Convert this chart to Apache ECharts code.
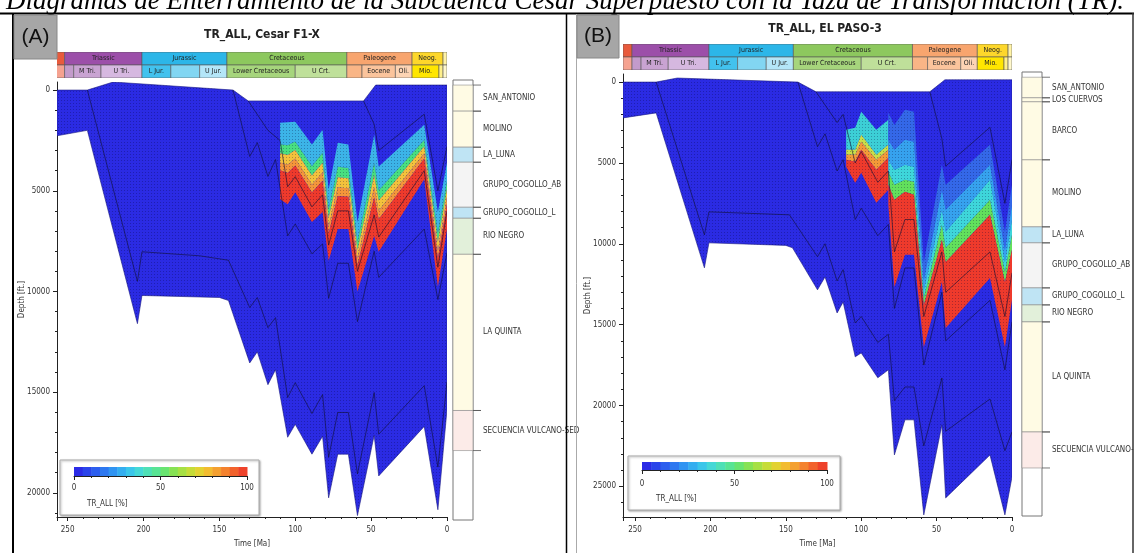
<!DOCTYPE html>
<html><head><meta charset="utf-8">
<script src="https://cdn.jsdelivr.net/npm/echarts@6/dist/echarts.min.js"></script>
<style>html,body{margin:0;padding:0;background:#fff}#c{width:1134px;height:553px}</style>
</head><body><div id="c"></div>
<script>
const FONT = "'Liberation Sans Narrow','Arial Narrow','DejaVu Sans Condensed',sans-serif";
const BLUE = '#2b2be3';

// ---------- shared: time-scale header ----------
const periods = [['',258,252,'#e85a3c'],['Triassic',252,201,'#9c4fa9'],['Jurassic',201,145,'#2cb6e8'],['Cretaceous',145,66,'#8dc85e'],['Paleogene',66,23,'#f8a56e'],['Neog.',23,2.6,'#fdd72b'],['',2.6,0,'#fff3a6']];
const epochs = [['',258,252,'#f5a290'],['',252,246,'#c39bcb'],['M Tri.',246,228,'#c9a3d2'],['U Tri.',228,201,'#d6b8e0'],['L Jur.',201,182,'#42c2ee'],['',182,163,'#82d6f2'],['U Jur.',163,145,'#b4e6f8'],['Lower Cretaceous',145,100,'#a6d57c'],['U Crt.',100,66,'#bfe09a'],['',66,56,'#f9b586'],['Eocene',56,34,'#fbc49c'],['Oli.',34,23,'#fdd4b4'],['Mio.',23,5.3,'#ffe600'],['',5.3,2.6,'#fff08a'],['',2.6,0,'#fff8cc']];

// ---------- shared: TR legend ----------
const trStops = [0,5,10,15,20,25,30,35,40,45,50,55,60,65,70,75,80,85,90,95,100];
const trPalette = ['#2b2be6','#2a44ea','#2c5eee','#2e78f0','#3094f2','#34aef0','#3ac6ea','#44d8d6','#4ee0b6','#58e494','#68e470','#86e254','#a6e044','#c6dc38','#e2d232','#f2bc30','#f4a030','#f4822e','#f2622c','#ee422a'];

const fmColor = {'SAN_ANTONIO':'#fffbe4','LOS CUERVOS':'#fffbe4','BARCO':'#fffbe4','MOLINO':'#fffbe4','LA_LUNA':'#bfe4f4','GRUPO_COGOLLO_AB':'#f4f4f4','GRUPO_COGOLLO_L':'#bfe4f4','RIO NEGRO':'#e2f0da','LA QUINTA':'#fffbe4','SECUENCIA VULCANO-SED':'#fcebe8'};

// ---------- Panel A: TR_ALL, Cesar F1-X ----------
const aDepthTicks = [0,5000,10000,15000,20000];
const aDepthMinor = [1000,2000,3000,4000,6000,7000,8000,9000,11000,12000,13000,14000,16000,17000,18000,19000,21000];
const aSurface = [[257,0],[237,0],[220,-400],[141,0],[131,540],[55,540],[47,-250],[0,-250]];
const aBase = [[257,2270],[237,2000],[204,11600],[201,10200],[150,10300],[144,10450],[130,13550],[125,13000],[118,14630],[113,13890],[105,17240],[100,16600],[89,18080],[82,17190],[78,20250],[72,18080],[65,18080],[59,21130],[48,17140],[45,19160],[15,16700],[6,20840],[0,15860]];
const aHorizon1 = [[237,0],[204,9500],[201,8030],[163,8230],[144,8450],[130,10800],[125,10300],[118,11800],[113,11300],[105,15270],[100,14530],[89,16060],[82,15120],[78,18230],[72,16010],[65,16010],[59,19060],[48,15020],[45,17090],[15,14680],[6,18720],[0,14500]];
const aHorizon2 = [[141,0],[130,3300],[125,2610],[118,4290],[113,3450],[105,7240],[100,6650],[89,8130],[82,7640],[78,10340],[72,8600],[65,8600],[59,11500],[48,8000],[45,9300],[15,6900],[6,10400],[0,8079]];
const aHorizon3 = [[131,540],[118,2000],[110,2500],[105,4800],[100,4300],[89,5800],[82,5200],[78,7700],[72,6000],[65,6000],[59,9000],[48,6200],[45,7300],[15,4000],[6,8800],[0,6000]];
const aHorizon4 = [[55,540],[48,1700],[45,3000],[15,1200],[6,5000],[0,2808]];
const aZoneTime = [110,105,100,89,82,78,72,65,59,48,45,15,6,0];
const aTrTop    = [1626,1600,1576,2709,1970,4926,2611,2700,6552,2217,3793,1724,6059,3596];
const aTr20     = [2688,2738,2555,3785,3115,5919,3811,3875,7517,3624,4979,2483,7094,4520];
const aTr40     = [3143,3226,2975,4246,3606,6345,4325,4378,7931,4227,5488,2808,7537,4916];
const aTr60     = [3598,3714,3395,4707,4096,6770,4839,4882,8345,4829,5996,3133,7980,5312];
const aTr80     = [3978,4120,3745,5092,4505,7125,5268,5302,8690,5332,6420,3404,8350,5642];
const aTrBase   = [5419,5665,5074,6552,6059,8473,6896,6896,10000,7241,8030,4433,9754,6896];
const aFmNames = ['SAN_ANTONIO','MOLINO','LA_LUNA','GRUPO_COGOLLO_AB','GRUPO_COGOLLO_L','RIO NEGRO','LA QUINTA','SECUENCIA VULCANO-SED'];
const aFmTops  = [-250,1034,2808,3547,5764,6305,8079,15763];
const aFmBases = [1034,2808,3547,5764,6305,8079,15763,17734];

// ---------- Panel B: TR_ALL, EL PASO-3 ----------
const bDepthTicks = [0,5000,10000,15000,20000,25000];
const bDepthMinor = [1000,2000,3000,4000,6000,7000,8000,9000,11000,12000,13000,14000,16000,17000,18000,19000,21000,22000,23000,24000,26000];
const bSurface = [[258,0],[236,0],[222,-250],[142,0],[130,600],[54.5,600],[44.5,-140],[0,-140]];
const bBase = [[258,2215],[236,1906],[204,11490],[201,9944],[150,10100],[145.6,10250],[129,12850],[124,12050],[116,14280],[112,13600],[104,16995],[100,16750],[89,18290],[82,17800],[78,23060],[71,20890],[65,20890],[58.5,26770],[46.5,21200],[44,25720],[14.6,23060],[4.7,26770],[0,24420]];
const bHorizon1 = [[236,0],[204,9450],[201,8026],[147.6,8210],[129,10800],[124,10000],[116,12300],[112,11600],[104,14900],[100,14500],[89,16100],[82,15600],[78,19700],[71,18860],[65,18860],[58.5,22500],[46.5,18300],[44,21600],[14.6,19600],[4.7,22800],[0,21640]];
const bHorizon2 = [[142,0],[129,4000],[124,3200],[116,5500],[112,4800],[104,8500],[100,7800],[89,9500],[82,8800],[78,14000],[71,11500],[65,11500],[58.5,17500],[46.5,13000],[44,16000],[14.6,13500],[4.7,17800],[0,14833]];
const bHorizon3 = [[130,600],[116,2500],[112,2000],[104,5000],[100,4300],[89,6200],[82,5500],[78,10500],[71,8500],[65,8500],[58.5,14500],[46.5,10500],[44,13000],[14.6,10500],[4.7,14500],[0,11800]];
const bHorizon4 = [[54.5,600],[46.5,3500],[44,5200],[14.6,2800],[4.7,7500],[0,4808]];
const bZone1Time = [110,104,100,90,82];
const bZ1Top   = [2952,2828,1838,2952,2333];
const bZ1Cyan  = [4189,4189,3261,4499,3880];
const bZ1Yel   = [4499,4499,3694,4808,4189];
const bZ1Orng  = [4808,4932,4189,5427,4684];
const bZ1Base  = [5241,6231,5612,7469,6665];
const bZone2Time = [82,78,71,65,58.5,46.5,44,14.6,4.7,0];
const bZ2Top   = [1900,2650,1714,1838,11121,5117,6355,3880,9264,6355];
const bZ2Lb    = [3571,4190,3571,3694,12235,6665,7902,5117,10378,7593];
const bZ2Cyan  = [4808,5427,5117,5241,12853,7902,9264,6046,11121,8521];
const bZ2Green = [5551,6355,6046,6169,13348,8830,10254,7283,11740,9449];
const bZ2Red   = [6355,7283,6788,6974,13781,9759,11121,8211,12358,10378];
const bZ2Base  = [7593,12667,10687,10687,16380,12358,15204,12110,16380,13470];
const bFmNames = ['SAN_ANTONIO','LOS CUERVOS','BARCO','MOLINO','LA_LUNA','GRUPO_COGOLLO_AB','GRUPO_COGOLLO_L','RIO NEGRO','LA QUINTA','SECUENCIA VULCANO-SED'];
const bFmTops  = [-300,971,1219,4808,8954,9944,12729,13781,14833,21640];
const bFmBases = [971,1219,4808,8954,9944,12729,13781,14833,21640,23868];

// ---------- texture (dot raster like the cell grid of the original) ----------
const dotCanvas = document.createElement('canvas');
dotCanvas.width = 3; dotCanvas.height = 3;
(function(){ const cx = dotCanvas.getContext('2d'); cx.fillStyle = 'rgba(0,0,50,0.28)'; cx.fillRect(1,1,1,1); })();
const DOTS = {image: dotCanvas, repeat: 'repeat'};

// ---------- builders ----------
const option = {animation:false, backgroundColor:'#fff', grid:[], xAxis:[], yAxis:[], series:[], graphic:[]};

function bandPts(T, top, bot){
  const a = T.map((t,i)=>[t,top[i]]);
  const b = T.map((t,i)=>[t,bot[i]]).reverse();
  return a.concat(b);
}
function poly(xi, yi, pts, fill, z, stroke, lw){
  option.series.push({type:'custom', xAxisIndex:xi, yAxisIndex:yi, data:[[0,0]], clip:true, silent:true, z:z,
    renderItem:(p,api)=>({type:'polygon', shape:{points:pts.map(q=>api.coord(q))}, style:{fill:fill, stroke:stroke||null, lineWidth:lw||0}})});
}
function line(xi, yi, pts, color, w, z){
  option.series.push({type:'custom', xAxisIndex:xi, yAxisIndex:yi, data:[[0,0]], clip:true, silent:true, z:z,
    renderItem:(p,api)=>({type:'polyline', shape:{points:pts.map(q=>api.coord(q))}, style:{stroke:color, lineWidth:w, fill:null}})});
}

function addPanel(c){
  const g = option.grid.length, x = option.xAxis.length, y = option.yAxis.length;
  option.grid.push({left:c.plotLeft, top:c.plotTop, width:c.plotW, height:c.plotH});
  option.grid.push({left:c.plotLeft, top:c.headTop, width:c.plotW, height:26});
  option.grid.push({left:c.colLeft, top:c.plotTop, width:20, height:c.plotH});
  option.grid.push({left:c.legLeft, top:c.legTop, width:c.legW, height:c.legH});
  const axLine = {onZero:false, lineStyle:{color:'#222', width:1}};
  option.xAxis.push({gridIndex:g, type:'value', min:0, max:c.tMax, inverse:true, interval:50, position:'bottom',
    axisLine:axLine, axisTick:{length:4, lineStyle:{color:'#222'}}, minorTick:{show:true, splitNumber:5, length:2, lineStyle:{color:'#222'}},
    splitLine:{show:false}, minorSplitLine:{show:false}, axisLabel:{fontSize:8, color:'#333', margin:9, fontFamily:FONT},
    name:'Time [Ma]', nameLocation:'middle', nameGap:c.tNameGap, nameTextStyle:{fontSize:8, color:'#333', fontFamily:FONT}});
  option.xAxis.push({gridIndex:g+1, type:'value', min:0, max:c.tMax, inverse:true, show:false});
  option.xAxis.push({gridIndex:g+2, type:'value', min:0, max:1, show:false});
  option.xAxis.push({gridIndex:g+3, type:'value', min:0, max:100, interval:50, z:5, position:'bottom',
    axisLine:axLine, axisTick:{length:4, lineStyle:{color:'#222'}}, minorTick:{show:true, splitNumber:5, length:2, lineStyle:{color:'#222'}},
    splitLine:{show:false}, axisLabel:{fontSize:8, color:'#333', margin:c.legMargin, fontFamily:FONT}});
  option.yAxis.push({gridIndex:g, type:'value', min:c.dMin, max:c.dMax, inverse:true, position:'left',
    axisLine:{show:true, onZero:false, lineStyle:{color:'#222', width:1}}, axisTick:{show:true, length:4, customValues:c.ticks, lineStyle:{color:'#222'}},
    axisLabel:{fontSize:8, color:'#333', margin:7, fontFamily:FONT, customValues:c.ticks, formatter:v=>String(v)}, splitLine:{show:false},
    name:'Depth [ft.]', nameLocation:'middle', nameGap:31, nameRotate:90, nameMoveOverlap:false, nameTextStyle:{fontSize:8, color:'#333', fontFamily:FONT}});
  option.yAxis.push({gridIndex:g, type:'value', min:c.dMin, max:c.dMax, inverse:true, position:'left',
    axisLine:{show:false, onZero:false}, axisTick:{show:true, length:2, customValues:c.minor, lineStyle:{color:'#222'}}, axisLabel:{show:false}, splitLine:{show:false}});
  option.yAxis.push({gridIndex:g+1, type:'value', min:0, max:2, inverse:true, show:false});
  option.yAxis.push({gridIndex:g+2, type:'value', min:c.dMin, max:c.dMax, inverse:true, show:false});
  option.yAxis.push({gridIndex:g+3, type:'value', min:0, max:1, show:false});

  const envelope = c.surface.concat(c.base.slice().reverse());
  // burial envelope
  poly(x, y, envelope, BLUE, 2, '#1a1a80', 0.6);
  // TR zones
  c.zones.forEach(zn=>{ for(let i=0;i<zn.bounds.length-1;i++) poly(x, y, bandPts(zn.time, zn.bounds[i], zn.bounds[i+1]), zn.colors[i], 3); });
  // cell-raster texture over the whole burial body
  poly(x, y, envelope, DOTS, 3.5);
  // horizons
  c.horizons.forEach(h=>line(x, y, h, 'rgba(15,15,50,0.75)', 0.8, 4));

  // header rows
  [periods, epochs].forEach((rows, r)=>{
    option.series.push({type:'custom', xAxisIndex:x+1, yAxisIndex:y+2, clip:true, silent:true, z:3,
      data: rows.map(p=>[(p[1]+p[2])/2, r+0.5]),
      renderItem:(params, api)=>{
        const p = rows[params.dataIndex];
        const a = api.coord([p[1], r]), b = api.coord([p[2], r+1]);
        return {type:'group', children:[
          {type:'rect', shape:{x:a[0], y:a[1], width:b[0]-a[0], height:b[1]-a[1]}, style:{fill:p[3], stroke:'#555', lineWidth:0.6}},
          {type:'text', style:{text:p[0], x:(a[0]+b[0])/2, y:(a[1]+b[1])/2, align:'center', verticalAlign:'middle', fontSize:7, fontFamily:FONT, fill:'#222'}}
        ]};
      }});
  });

  // stratigraphic column
  option.series.push({type:'custom', xAxisIndex:x+2, yAxisIndex:y+3, clip:false, silent:true, z:2, data:[[0.5,0]],
    renderItem:(params, api)=>{ const a = api.coord([0, c.dMin]), b = api.coord([1, c.dMax]);
      return {type:'rect', shape:{x:a[0], y:a[1]-2, width:b[0]-a[0], height:b[1]-a[1]+1}, style:{fill:'#fff', stroke:'#777', lineWidth:1}}; }});
  option.series.push({type:'custom', xAxisIndex:x+2, yAxisIndex:y+3, clip:false, silent:true, z:3,
    data: c.fmNames.map((n,i)=>[0.5,(c.fmTops[i]+c.fmBases[i])/2]),
    renderItem:(params, api)=>{
      const i = params.dataIndex, n = c.fmNames[i];
      const a = api.coord([0, c.fmTops[i]]), b = api.coord([1, c.fmBases[i]]);
      return {type:'group', children:[
        {type:'rect', shape:{x:a[0], y:a[1], width:b[0]-a[0], height:b[1]-a[1]}, style:{fill:fmColor[n], stroke:'#8a8a8a', lineWidth:0.6}},
        {type:'line', shape:{x1:b[0], y1:a[1], x2:b[0]+8, y2:a[1]}, style:{stroke:'#555', lineWidth:0.8}},
        {type:'line', shape:{x1:b[0], y1:b[1], x2:b[0]+8, y2:b[1]}, style:{stroke:'#555', lineWidth:0.8}},
        {type:'text', style:{text:n, x:b[0]+10, y:(a[1]+b[1])/2, align:'left', verticalAlign:'middle', fontSize:8, fontFamily:FONT, fill:'#333'}}
      ]};
    }});

  // legend colour bar
  option.series.push({type:'custom', xAxisIndex:x+3, yAxisIndex:y+4, clip:false, silent:true, z:5,
    data: trPalette.map((col,i)=>[(trStops[i]+trStops[i+1])/2, 0.5]),
    renderItem:(params, api)=>{ const i = params.dataIndex;
      const a = api.coord([trStops[i], 1]), b = api.coord([trStops[i+1], 0]);
      return {type:'rect', shape:{x:a[0], y:a[1], width:b[0]-a[0]+0.5, height:b[1]-a[1]}, style:{fill:trPalette[i]}}; }});
}

addPanel({plotLeft:57, plotTop:82, plotW:390, plotH:439, tMax:257, dMin:-400, dMax:21200, headTop:52, colLeft:453,
  legLeft:74, legTop:467, legW:173, legH:9, legMargin:8, tNameGap:23, ticks:aDepthTicks, minor:aDepthMinor,
  surface:aSurface, base:aBase, horizons:[aHorizon1,aHorizon2,aHorizon3,aHorizon4],
  zones:[{time:aZoneTime, bounds:[aTrTop,aTr20,aTr40,aTr60,aTr80,aTrBase], colors:['#3cb4e8','#48df80','#f3c23c','#f4963a','#ee3a2c']}],
  fmNames:aFmNames, fmTops:aFmTops, fmBases:aFmBases});
addPanel({plotLeft:623, plotTop:74, plotW:389, plotH:443, tMax:258, dMin:-500, dMax:26900, headTop:44, colLeft:1022,
  legLeft:642, legTop:462, legW:185, legH:8, legMargin:10, tNameGap:23, ticks:bDepthTicks, minor:bDepthMinor,
  surface:bSurface, base:bBase, horizons:[bHorizon1,bHorizon2,bHorizon3,bHorizon4],
  zones:[{time:bZone1Time, bounds:[bZ1Top,bZ1Cyan,bZ1Yel,bZ1Orng,bZ1Base], colors:['#3ccfd6','#c8e048','#f39a38','#ee3a2c']},
         {time:bZone2Time, bounds:[bZ2Top,bZ2Lb,bZ2Cyan,bZ2Green,bZ2Red,bZ2Base], colors:['#3468e8','#36a2ee','#3ed6da','#62e05c','#ee3a2c']}],
  fmNames:bFmNames, fmTops:bFmTops, fmBases:bFmBases});

// ---------- frame, titles, legend boxes ----------
option.graphic = [
  {type:'text', z:10, style:{text:'Diagramas de Enterramiento de la Subcuenca Cesar Superpuesto con la Taza de Transformación (TR).', x:565, y:15, align:'center', verticalAlign:'bottom', fontSize:27, fontStyle:'italic', fontFamily:"'Liberation Serif','Times New Roman',serif", fill:'#000'}},
  {type:'line', z:10, shape:{x1:0, y1:13.5, x2:1134, y2:13.5}, style:{stroke:'#000', lineWidth:2}},
  {type:'line', z:10, shape:{x1:13, y1:13, x2:13, y2:553}, style:{stroke:'#000', lineWidth:2}},
  {type:'line', z:10, shape:{x1:566.5, y1:13, x2:566.5, y2:553}, style:{stroke:'#000', lineWidth:1.5}},
  {type:'line', z:10, shape:{x1:576.5, y1:14, x2:576.5, y2:553}, style:{stroke:'#aaa', lineWidth:1}},
  {type:'line', z:10, shape:{x1:1133, y1:13, x2:1133, y2:553}, style:{stroke:'#333', lineWidth:1.5}},
  {type:'rect', z:10, shape:{x:14, y:15, width:43, height:44}, style:{fill:'#a6a6a6', stroke:'#888', lineWidth:1}},
  {type:'text', z:11, style:{text:'(A)', x:35.5, y:37, align:'center', verticalAlign:'middle', fontSize:21, fontFamily:"'Liberation Sans',Arial,sans-serif", fill:'#111'}},
  {type:'rect', z:10, shape:{x:577, y:15, width:42, height:43}, style:{fill:'#a6a6a6', stroke:'#888', lineWidth:1}},
  {type:'text', z:11, style:{text:'(B)', x:598, y:36.5, align:'center', verticalAlign:'middle', fontSize:21, fontFamily:"'Liberation Sans',Arial,sans-serif", fill:'#111'}},
  {type:'text', z:10, style:{text:'TR_ALL, Cesar F1-X', x:262, y:35, align:'center', verticalAlign:'middle', fontSize:12, fontWeight:'bold', fontFamily:FONT, fill:'#222'}},
  {type:'text', z:10, style:{text:'TR_ALL, EL PASO-3', x:825, y:29, align:'center', verticalAlign:'middle', fontSize:12, fontWeight:'bold', fontFamily:FONT, fill:'#222'}},
  {type:'rect', z:0, shape:{x:60, y:460, width:199, height:55}, style:{fill:'#fff', stroke:'#aaa', lineWidth:1, shadowBlur:2, shadowOffsetX:1, shadowOffsetY:1, shadowColor:'rgba(0,0,0,0.3)'}},
  {type:'text', z:10, style:{text:'TR_ALL [%]', x:87, y:504, align:'left', verticalAlign:'middle', fontSize:8, fontFamily:FONT, fill:'#333'}},
  {type:'rect', z:0, shape:{x:628, y:456, width:212, height:54}, style:{fill:'#fff', stroke:'#aaa', lineWidth:1, shadowBlur:2, shadowOffsetX:1, shadowOffsetY:1, shadowColor:'rgba(0,0,0,0.3)'}},
  {type:'text', z:10, style:{text:'TR_ALL [%]', x:656, y:499, align:'left', verticalAlign:'middle', fontSize:8, fontFamily:FONT, fill:'#333'}}
];

const chart = echarts.init(document.getElementById('c'), null, {renderer:'canvas'});
chart.setOption(option);
</script></body></html>
